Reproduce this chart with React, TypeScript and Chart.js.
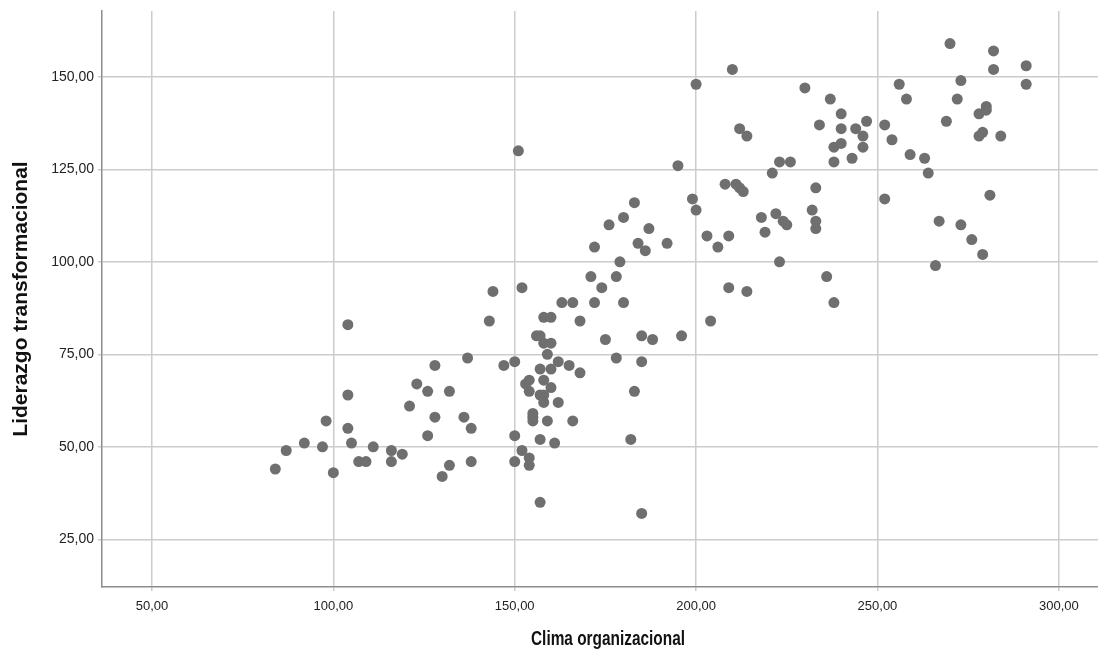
import React, { useEffect, useRef } from "react";
import { Chart, registerables } from "chart.js";

Chart.register(...registerables);

// Clima organizacional (x) values
const climaValues: number[] = [
  84, 87, 92, 97, 98, 100, 104, 104, 104, 105, 107, 109, 111, 116, 116, 119, 121, 123, 126, 126, 128, 128, 130, 132, 132, 136, 137, 138, 138,
  143, 144, 147, 150, 150, 150, 151, 152, 152, 153, 154, 154, 154, 154, 155, 155, 155, 156, 157, 157, 157, 157, 157, 158, 158, 158, 158, 158,
  159, 159, 160, 160, 160, 160, 161, 162, 162, 163, 165, 166, 166, 168, 168, 171, 172, 172, 174, 175, 176, 178, 178, 179, 180, 180, 182, 183,
  183, 184, 185, 185, 185, 186, 187, 188, 192, 195, 196,
  199, 200, 200, 203, 204, 206, 208, 209, 209, 210, 211, 212, 212, 213, 214, 214, 218, 219, 221, 222, 223, 223, 224, 225, 226, 230, 232, 233,
  233, 233, 234, 236, 237, 238, 238, 238, 240, 240, 240, 243, 244, 246, 246, 247,
  252, 252, 254, 256, 258, 259, 263, 264, 266, 267, 269, 270, 272, 273, 273, 276, 278, 278, 279, 279, 280, 280, 281, 282, 282, 284, 291, 291,
];

// Liderazgo transformacional (y) values, same order
const liderazgoValues: number[] = [
  44, 49, 51, 50, 57, 43, 83, 64, 55, 51, 46, 46, 50, 49, 46, 48, 61, 67, 65, 53, 72, 58, 42, 65, 45, 58, 74, 55, 46,
  84, 92, 72, 73, 53, 46, 130, 93, 49, 67, 68, 65, 47, 45, 59, 58, 57, 80, 80, 71, 64, 52, 35, 85, 78, 68, 64, 62,
  75, 57, 85, 78, 71, 66, 51, 73, 62, 89, 72, 89, 57, 84, 70, 96, 89, 104, 93, 79, 110, 96, 74, 100, 112, 89, 52, 116,
  65, 105, 80, 73, 32, 103, 109, 79, 105, 126, 80,
  117, 148, 114, 107, 84, 104, 121, 107, 93, 152, 121, 136, 120, 119, 134, 92, 112, 108, 124, 113, 127, 100, 111, 110, 127, 147, 114, 120,
  111, 109, 137, 96, 144, 131, 127, 89, 140, 136, 132, 128, 136, 134, 131, 138,
  137, 117, 133, 148, 144, 129, 128, 124, 99, 111, 138, 159, 144, 149, 110, 106, 140, 134, 135, 102, 142, 141, 118, 157, 152, 134, 153, 148,
];

const xTickValues: number[] = [50, 100, 150, 200, 250, 300];
const yTickValues: number[] = [25, 50, 75, 100, 125, 150];

const xTitle = "Clima organizacional";
const yTitle = "Liderazgo transformacional";

const FONT = "'Liberation Sans', Arial, sans-serif";
const fmt = (v: number) => v.toFixed(2).replace(".", ",");

// draws the x-axis title in a horizontally condensed bold face
const xTitlePlugin = {
  id: "xTitleCondensed",
  afterDraw(chart: any) {
    const { ctx, chartArea } = chart;
    const cx = (chartArea.left + chartArea.right) / 2 + 8;
    const cy = 639;
    ctx.save();
    ctx.translate(cx, cy);
    ctx.scale(0.77, 1);
    ctx.font = `bold 20px ${FONT}`;
    ctx.fillStyle = "#111";
    ctx.textAlign = "center";
    ctx.textBaseline = "middle";
    ctx.fillText(xTitle, 0, 0);
    ctx.restore();
  },
};

export default function App() {
  const canvasRef = useRef<HTMLCanvasElement | null>(null);

  useEffect(() => {
    if (!canvasRef.current) return;
    const points = climaValues.map((x, i) => ({ x, y: liderazgoValues[i] }));
    const chart = new Chart(canvasRef.current, {
      type: "scatter",
      data: {
        datasets: [
          {
            data: points,
            backgroundColor: "#6f6f6f",
            borderColor: "#6f6f6f",
            borderWidth: 0,
            pointRadius: 5.5,
          },
        ],
      },
      plugins: [xTitlePlugin],
      options: {
        responsive: false,
        animation: false,
        layout: { autoPadding: false, padding: { top: 11, right: 0, left: 0, bottom: 0 } },
        plugins: { legend: { display: false }, tooltip: { enabled: false } },
        scales: {
          x: {
            type: "linear",
            min: 36.22,
            max: 310.8,
            afterBuildTicks: (axis: any) => {
              axis.ticks = xTickValues.map((v) => ({ value: v }));
            },
            afterFit: (scale: any) => {
              scale.height = 65;
              scale.paddingLeft = 0;
              scale.paddingRight = 0;
            },
            ticks: {
              callback: (v: any) => fmt(Number(v)),
              color: "#222",
              font: { family: FONT, size: 13 },
              padding: 8,
              maxRotation: 0,
              autoSkip: false,
            },
            grid: { color: "#cccccc", lineWidth: 1.5, tickLength: 4, tickColor: "#cccccc" },
            border: { color: "#8c8c8c", width: 1.5 },
            title: { display: false },
          },
          y: {
            type: "linear",
            min: 12.1,
            max: 167.8,
            afterBuildTicks: (axis: any) => {
              axis.ticks = yTickValues.map((v) => ({ value: v }));
            },
            afterFit: (scale: any) => {
              scale.width = 102;
              scale.paddingTop = 0;
              scale.paddingBottom = 0;
            },
            ticks: {
              callback: (v: any) => fmt(Number(v)),
              color: "#222",
              font: { family: FONT, size: 14 },
              padding: 4,
              autoSkip: false,
            },
            grid: { color: "#cccccc", lineWidth: 1.5, tickLength: 4, tickColor: "#cccccc" },
            border: { color: "#8c8c8c", width: 1.5 },
            title: {
              display: true,
              text: yTitle,
              color: "#111",
              font: { family: FONT, size: 21, weight: "bold" },
              padding: { top: 9, bottom: 0 },
            },
          },
        },
      },
    });
    return () => chart.destroy();
  }, []);

  return (
    <div style={{ position: "absolute", left: 0, top: 0, width: 1098, height: 652, background: "#fff" }}>
      <canvas ref={canvasRef} width={1098} height={652} />
    </div>
  );
}
